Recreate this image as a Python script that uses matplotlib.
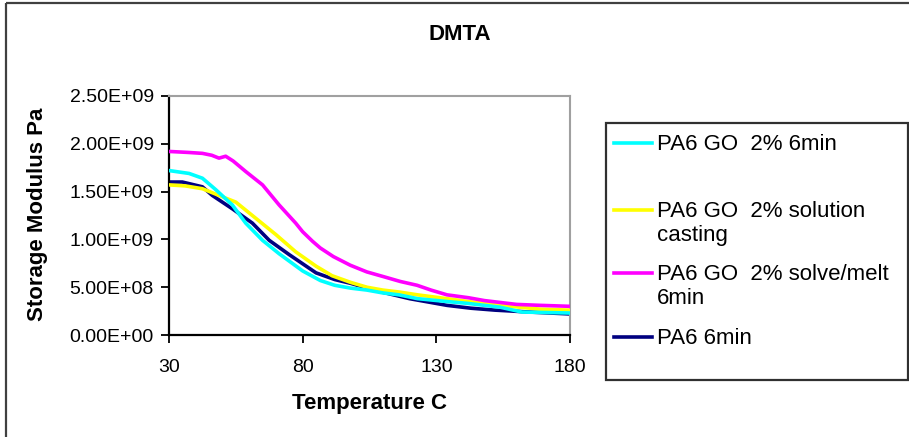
import numpy as np
import matplotlib.pyplot as plt
from matplotlib.lines import Line2D
from matplotlib.patches import Rectangle
from matplotlib.ticker import FormatStrFormatter

plt.rcParams['font.family'] = ['Liberation Sans', 'DejaVu Sans']

# datos (modulo en E9 Pa)
t_cian = [30, 37.5, 42.5, 47.5, 53.7, 58.7, 65, 71.2, 80, 86.6, 92, 98, 104, 110, 116, 123, 134, 142, 154, 162, 180]
g_cian = [1.72, 1.69, 1.64, 1.52, 1.36, 1.17, 0.99, 0.85, 0.67, 0.57, 0.52, 0.49, 0.47, 0.44, 0.42, 0.38, 0.35, 0.33, 0.29, 0.24, 0.23]

t_amar = [30, 36, 42.5, 48.7, 55, 62.5, 70, 77.4, 85, 91, 98, 104, 110, 116, 123, 134, 142, 154, 169, 180]
g_amar = [1.57, 1.56, 1.53, 1.46, 1.39, 1.22, 1.05, 0.87, 0.72, 0.62, 0.55, 0.50, 0.47, 0.45, 0.42, 0.38, 0.35, 0.31, 0.27, 0.26]

t_mag = [30, 37, 42.5, 46, 48.7, 51.2, 54, 58.7, 65, 71.2, 77.4, 80, 83.7, 86.6, 91.5, 97.8, 104, 110.3, 116.5, 122.8, 128, 134, 142, 148, 154, 160, 169, 180]
g_mag = [1.92, 1.91, 1.90, 1.88, 1.85, 1.87, 1.82, 1.71, 1.57, 1.36, 1.17, 1.08, 0.98, 0.91, 0.82, 0.73, 0.66, 0.61, 0.56, 0.52, 0.47, 0.42, 0.39, 0.36, 0.34, 0.32, 0.31, 0.30]

t_pa6 = [30, 35, 42.5, 46.2, 53.7, 61.2, 67.5, 75, 85, 92, 98, 108, 120, 134, 143, 152, 165, 180]
g_pa6 = [1.60, 1.60, 1.55, 1.46, 1.32, 1.17, 0.99, 0.84, 0.65, 0.58, 0.54, 0.46, 0.38, 0.31, 0.28, 0.26, 0.24, 0.22]

etiquetas = ["PA6 GO  2% 6min", "PA6 GO  2% solution\ncasting",
             "PA6 GO  2% solve/melt\n6min", "PA6 6min"]
colores = ['#00FFFF', '#FFFF00', '#FF00FF', '#000080']

xticks = [30, 80, 130, 180]
yticks = np.arange(0, 2.51e9, 0.5e9)

fig = plt.figure(figsize=(9.09, 4.37), dpi=100)
W, H = 909, 437

def fx(px):
    return px / W

def fy(py):
    return 1 - py / H

ax = fig.add_axes([fx(169), fy(335), fx(570) - fx(169), fy(96) - fy(335)])

lw = 2.6
ax.plot(t_pa6, np.array(g_pa6) * 1e9, color=colores[3], lw=lw, zorder=2)
ax.plot(t_amar, np.array(g_amar) * 1e9, color=colores[1], lw=lw, zorder=3)
ax.plot(t_cian, np.array(g_cian) * 1e9, color=colores[0], lw=lw, zorder=4)
ax.plot(t_mag, np.array(g_mag) * 1e9, color=colores[2], lw=lw, zorder=5)

ax.set_xlim(30, 180)
ax.set_ylim(0, 2.5e9)
ax.set_xticks(xticks)
ax.set_yticks(yticks)
ax.yaxis.set_major_formatter(FormatStrFormatter('%.2E'))
ax.tick_params(direction='out', length=6, width=1.3, labelsize=14)
ax.tick_params(axis='x', pad=11)
ax.tick_params(axis='y', pad=5)
ax.spines['left'].set_linewidth(1.6)
ax.spines['bottom'].set_linewidth(1.6)
ax.spines['top'].set_color('#a0a0a0')
ax.spines['right'].set_color('#a0a0a0')
ax.spines['top'].set_linewidth(1.5)
ax.spines['right'].set_linewidth(1.5)

fig.text(fx(460), fy(34), "DMTA", ha='center', va='center', fontsize=16, fontweight='bold')
fig.text(fx(369), fy(403), "Temperature C", ha='center', va='center', fontsize=16, fontweight='bold')
fig.text(fx(38), fy(214), "Storage Modulus Pa", ha='center', va='center', rotation=90,
         fontsize=16, fontweight='bold')

# marco exterior
fig.patches.append(Rectangle((fx(6), fy(3)), 1.2, -1.2, transform=fig.transFigure,
                             fill=False, ec='#404040', lw=1.6))

# leyenda
fig.patches.append(Rectangle((fx(606), fy(380)), fx(908) - fx(606), fy(123) - fy(380),
                             transform=fig.transFigure, fill=False, ec='#303030', lw=1.6))
y_ley = [143, 210, 273, 337]
for lab, c, yy in zip(etiquetas, colores, y_ley):
    fig.lines.append(Line2D([fx(614), fx(652)], [fy(yy), fy(yy)], transform=fig.transFigure,
                            color=c, lw=lw))
    fig.text(fx(657), fy(yy - 9), lab, ha='left', va='top', fontsize=16, linespacing=1.2)

plt.savefig('out.png', dpi=100)
